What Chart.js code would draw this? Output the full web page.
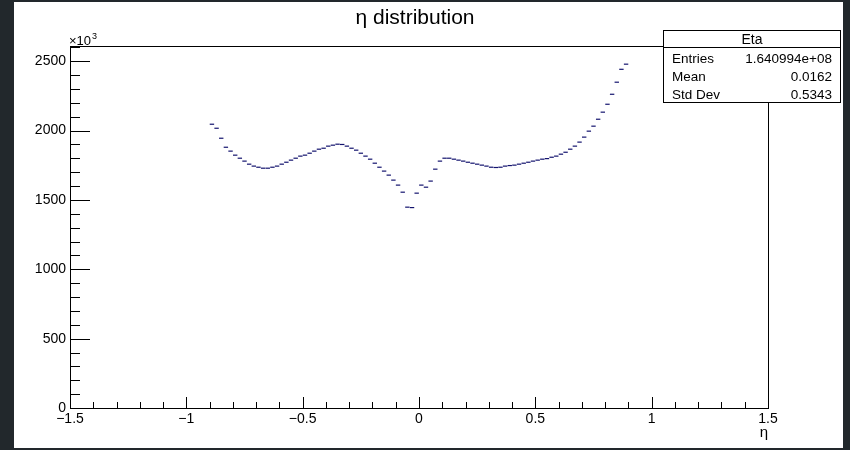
<!DOCTYPE html>
<html>
<head>
<meta charset="utf-8">
<script src="https://cdn.jsdelivr.net/npm/chart.js"></script>
<style>
  html, body { margin: 0; padding: 0; background: #22282c; }
  #pad { position: absolute; left: 14px; top: 2px; width: 829px; height: 446px; background: #fff; }
  canvas { display: block; }
</style>
</head>
<body>
<div id="pad"><canvas id="eta" width="829" height="446"></canvas></div>
<script>
// bin centres (eta), bin width 0.02
const etaBins = [
  -0.89, -0.87, -0.85, -0.83, -0.81, -0.79, -0.77, -0.75, -0.73, -0.71,
  -0.69, -0.67, -0.65, -0.63, -0.61, -0.59, -0.57, -0.55, -0.53, -0.51,
  -0.49, -0.47, -0.45, -0.43, -0.41, -0.39, -0.37, -0.35, -0.33, -0.31,
  -0.29, -0.27, -0.25, -0.23, -0.21, -0.19, -0.17, -0.15, -0.13, -0.11,
  -0.09, -0.07, -0.05, -0.03, -0.01,
  0.01, 0.03, 0.05, 0.07, 0.09, 0.11, 0.13, 0.15, 0.17, 0.19,
  0.21, 0.23, 0.25, 0.27, 0.29, 0.31, 0.33, 0.35, 0.37, 0.39,
  0.41, 0.43, 0.45, 0.47, 0.49, 0.51, 0.53, 0.55, 0.57, 0.59,
  0.61, 0.63, 0.65, 0.67, 0.69, 0.71, 0.73, 0.75, 0.77, 0.79,
  0.81, 0.83, 0.85, 0.87, 0.89
];
// entries per bin, x10^3
const entries = [
  2046, 2017, 1945, 1880, 1852, 1823, 1801, 1780, 1758, 1744,
  1736, 1729, 1729, 1736, 1744, 1758, 1772, 1787, 1801, 1816,
  1823, 1837, 1852, 1866, 1873, 1888, 1895, 1902, 1900, 1888,
  1873, 1859, 1837, 1816, 1794, 1765, 1736, 1708, 1679, 1643,
  1607, 1556, 1448, 1445, 1549,
  1607, 1592, 1636, 1722, 1780, 1801, 1801, 1794, 1787, 1780,
  1772, 1765, 1758, 1751, 1744, 1736, 1734, 1736, 1744, 1748,
  1751, 1758, 1765, 1772, 1780, 1787, 1794, 1798, 1808, 1816,
  1830, 1844, 1866, 1888, 1917, 1953, 1996, 2032, 2082, 2133,
  2190, 2262, 2349, 2442, 2479
];
const xTickValues = [-1.5, -1, -0.5, 0, 0.5, 1, 1.5];
const yTickValues = [0, 500, 1000, 1500, 2000, 2500];
const statLabels = ['Entries', 'Mean', 'Std Dev'];
const statValues = ['1.640994e+08', '0.0162', '0.5343'];

const FONT = '"Liberation Sans", Arial, sans-serif';

// frame, inward ticks, title, stats box (ROOT look)
const rootPad = {
  id: 'rootPad',
  afterDraw(chart) {
    const ctx = chart.ctx;
    const a = chart.chartArea;
    const xs = chart.scales.x, ys = chart.scales.y;
    ctx.save();
    ctx.strokeStyle = '#000';
    ctx.lineWidth = 1;
    ctx.strokeRect(a.left + 0.5, a.top + 0.5, a.right - a.left, a.bottom - a.top);

    ctx.beginPath();
    for (let k = -15; k <= 15; k++) {
      const px = Math.round(xs.getPixelForValue(k / 10)) + 0.5;
      const len = (k % 5 === 0) ? 11 : 6;
      ctx.moveTo(px, a.bottom);
      ctx.lineTo(px, a.bottom - len);
    }
    for (let k = 0; k <= 26; k++) {
      const py = Math.round(ys.getPixelForValue(k * 100)) + 0.5;
      const len = (k % 5 === 0) ? 20 : 10;
      ctx.moveTo(a.left, py);
      ctx.lineTo(a.left + len, py);
    }
    ctx.stroke();

    ctx.fillStyle = '#000';
    ctx.textBaseline = 'alphabetic';
    ctx.textAlign = 'center';
    ctx.font = '21px ' + FONT;
    ctx.fillText('η distribution', 401, 22);

    ctx.textAlign = 'left';
    ctx.font = '13px ' + FONT;
    ctx.fillText('×10', 55, 43);
    const w = ctx.measureText('×10').width;
    ctx.font = '9px ' + FONT;
    ctx.fillText('3', 55 + w + 1, 37);

    ctx.textAlign = 'right';
    ctx.font = '15px ' + FONT;
    ctx.fillText('η', a.right, 435);

    // stats box
    ctx.fillStyle = '#fff';
    ctx.fillRect(649, 28, 177, 72);
    ctx.strokeRect(649.5, 28.5, 177, 72);
    ctx.beginPath();
    ctx.moveTo(649, 45.5);
    ctx.lineTo(826, 45.5);
    ctx.stroke();
    ctx.fillStyle = '#000';
    ctx.font = '14px ' + FONT;
    ctx.textAlign = 'center';
    ctx.fillText('Eta', 738, 42);
    ctx.font = '13.5px ' + FONT;
    const rowY = [61, 79, 97];
    statLabels.forEach((lab, i) => {
      ctx.textAlign = 'left';
      ctx.fillText(lab, 658, rowY[i]);
      ctx.textAlign = 'right';
      ctx.fillText(statValues[i], 818, rowY[i]);
    });
    ctx.restore();
  }
};

const ctx1 = document.getElementById('eta');

new Chart(ctx1, {
  type: 'scatter',
  data: {
    datasets: [{
      label: 'Eta',
      data: etaBins.map((x, i) => ({ x: x, y: entries[i] })),
      pointStyle: 'line',
      radius: 2.2,
      borderColor: '#13136e',
      backgroundColor: '#13136e',
      borderWidth: 1.2
    }]
  },
  options: {
    responsive: false,
    animation: false,
    events: [],
    layout: { padding: { top: 44, right: 75, left: 0, bottom: 0 } },
    plugins: {
      legend: { display: false },
      tooltip: { enabled: false },
      title: { display: false }
    },
    scales: {
      x: {
        type: 'linear',
        min: -1.5,
        max: 1.5,
        grid: { display: false, drawTicks: false },
        border: { display: false },
        afterFit: s => { s.height = 40; },
        afterBuildTicks: s => { s.ticks = xTickValues.map(v => ({ value: v })); },
        ticks: {
          padding: 3,
          maxRotation: 0,
          autoSkip: false,
          color: '#000',
          font: { family: FONT, size: 14 },
          callback: v => (v < 0 ? '−' : '') + Math.abs(v)
        }
      },
      y: {
        type: 'linear',
        min: 0,
        max: 2610,
        grid: { display: false, drawTicks: false },
        border: { display: false },
        afterFit: s => { s.width = 56; },
        afterBuildTicks: s => { s.ticks = yTickValues.map(v => ({ value: v })); },
        ticks: {
          padding: 4,
          autoSkip: false,
          color: '#000',
          font: { family: FONT, size: 14 },
          callback: v => String(v)
        }
      }
    }
  },
  plugins: [rootPad]
});
</script>
</body>
</html>
